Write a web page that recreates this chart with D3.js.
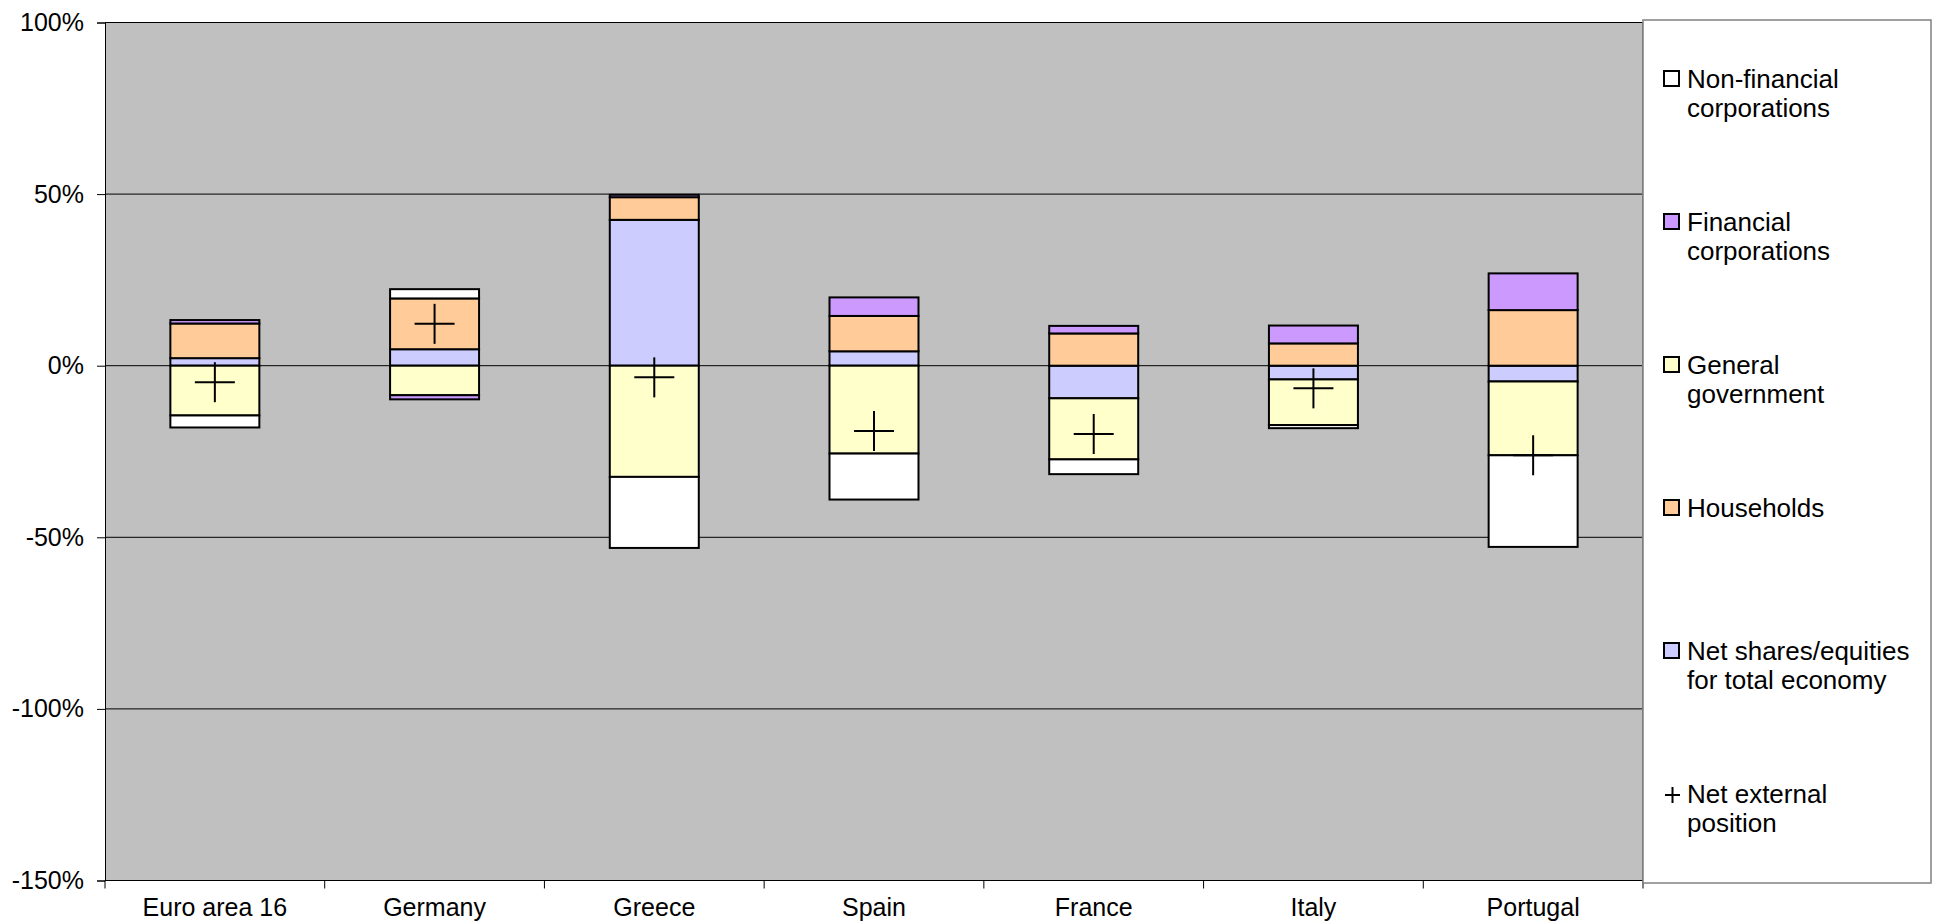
<!DOCTYPE html>
<html>
<head>
<meta charset="utf-8">
<script src="https://cdn.jsdelivr.net/npm/d3@7"></script>
<style>
  body { margin: 0; background: #ffffff; }
  text { font-family: "Liberation Sans", Arial, sans-serif; fill: #000; }
</style>
</head>
<body>
<svg id="chart" width="1933" height="924"></svg>
<script>
// Countries / areas on the horizontal axis
const categories = ["Euro area 16", "Germany", "Greece", "Spain", "France", "Italy", "Portugal"];

// Sector contributions, % of GDP
const nonFinancial = [-3.5, 2.7, -20.7, -13.4, -4.3, -0.9, -26.7];
const financial    = [1.0, -1.2, 0.7, 5.4, 2.2, 5.2, 10.7];
const generalGov   = [-14.5, -8.6, -32.4, -25.6, -17.8, -13.3, -21.5];
const households   = [10.1, 14.8, 6.6, 10.3, 9.4, 6.5, 16.2];
const netShares    = [2.2, 4.8, 42.5, 4.2, -9.5, -4.0, -4.6];
const netExternal  = [-4.8, 12.2, -3.4, -19.0, -19.9, -6.6, -26.1];

// Y axis ticks
const yTicks = [-150, -100, -50, 0, 50, 100];

// Legend entries (text lines)
const legendLabels = [
  ["Non-financial", "corporations"],
  ["Financial", "corporations"],
  ["General", "government"],
  ["Households"],
  ["Net shares/equities", "for total economy"],
  ["Net external", "position"]
];

// Series keys in stacking order (first key sits next to zero)
const stackKeys = ["netShares", "households", "generalGov", "financial", "nonFinancial"];
const seriesColor = {
  nonFinancial: "#FFFFFF",
  financial: "#CC99FF",
  generalGov: "#FFFFCC",
  households: "#FFCC99",
  netShares: "#CCCCFF"
};
const legendKeys = ["nonFinancial", "financial", "generalGov", "households", "netShares", "netExternal"];

const rows = categories.map((c, i) => ({
  category: c,
  nonFinancial: nonFinancial[i],
  financial: financial[i],
  generalGov: generalGov[i],
  households: households[i],
  netShares: netShares[i],
  netExternal: netExternal[i]
}));

const svg = d3.select("#chart");
const plot = { left: 105, right: 1643, top: 22.5, bottom: 880.5 };

const y = d3.scaleLinear().domain([-150, 100]).range([plot.bottom, plot.top]);
const xCat = d3.scaleBand().domain(categories).range([plot.left, plot.right]).padding(0);
const xBar = d3.scaleBand().domain(categories).range([plot.left, plot.right])
  .paddingInner(0.595).paddingOuter(0.2975);

// Plot background
svg.append("rect")
  .attr("x", plot.left).attr("y", plot.top)
  .attr("width", plot.right - plot.left).attr("height", plot.bottom - plot.top)
  .attr("fill", "#C0C0C0");

// Gridlines
svg.append("g").selectAll("line").data(yTicks).join("line")
  .attr("x1", plot.left).attr("x2", plot.right)
  .attr("y1", d => y(d)).attr("y2", d => y(d))
  .attr("stroke", "#000").attr("stroke-width", 1);

// Plot frame (right edge)
svg.append("line")
  .attr("x1", plot.right).attr("x2", plot.right)
  .attr("y1", plot.top).attr("y2", plot.bottom)
  .attr("stroke", "#707070").attr("stroke-width", 2);

// Stacked bars
const stacked = d3.stack().keys(stackKeys).offset(d3.stackOffsetDiverging)(rows);
svg.append("g").selectAll("g").data(stacked).join("g")
  .attr("fill", d => seriesColor[d.key])
  .selectAll("rect").data(d => d).join("rect")
  .attr("x", d => xBar(d.data.category))
  .attr("width", xBar.bandwidth())
  .attr("y", d => y(Math.max(d[0], d[1])))
  .attr("height", d => Math.abs(y(d[0]) - y(d[1])))
  .attr("stroke", "#000").attr("stroke-width", 2);

// Net external position markers
const crossHalf = 20;
const cross = svg.append("g").selectAll("g").data(rows).join("g")
  .attr("transform", d => `translate(${xCat(d.category) + xCat.bandwidth() / 2},${y(d.netExternal)})`);
cross.append("line").attr("x1", -crossHalf).attr("x2", crossHalf).attr("y1", 0).attr("y2", 0)
  .attr("stroke", "#000").attr("stroke-width", 2);
cross.append("line").attr("x1", 0).attr("x2", 0).attr("y1", -crossHalf).attr("y2", crossHalf)
  .attr("stroke", "#000").attr("stroke-width", 2);

// Y axis
const yAxis = svg.append("g")
  .attr("transform", `translate(${plot.left},0)`)
  .call(d3.axisLeft(y).tickValues(yTicks).tickFormat(d => d + "%").tickSize(8).tickPadding(13));
yAxis.selectAll("text").attr("font-size", 25).style("font-family", "'Liberation Sans', Arial, sans-serif");
yAxis.selectAll("line, path").attr("stroke", "#000");

// X axis: labels centred on categories, ticks on category boundaries
const xAxis = svg.append("g")
  .attr("transform", `translate(0,${plot.bottom})`)
  .call(d3.axisBottom(xCat).tickSize(0).tickPadding(18));
xAxis.select("path").remove();
xAxis.selectAll("text").attr("font-size", 25).style("font-family", "'Liberation Sans', Arial, sans-serif");
svg.append("line")
  .attr("x1", plot.left).attr("x2", plot.right)
  .attr("y1", plot.bottom).attr("y2", plot.bottom)
  .attr("stroke", "#000").attr("stroke-width", 1);
const boundaries = categories.map(c => xCat(c)).concat([xCat.range()[1]]);
svg.append("g").selectAll("line").data(boundaries).join("line")
  .attr("x1", d => d).attr("x2", d => d)
  .attr("y1", plot.bottom).attr("y2", plot.bottom + 8)
  .attr("stroke", "#000").attr("stroke-width", 1);

// Legend
const legendBox = { x: 1643, y: 20, w: 288, h: 863 };
svg.append("rect")
  .attr("x", legendBox.x).attr("y", legendBox.y)
  .attr("width", legendBox.w).attr("height", legendBox.h)
  .attr("fill", "#fff").attr("stroke", "#808080").attr("stroke-width", 1.5);

const legend = svg.append("g").selectAll("g").data(legendKeys).join("g")
  .attr("transform", (d, i) => `translate(1664,${88 + i * 143})`);

legend.filter(d => d !== "netExternal").append("rect")
  .attr("x", 0).attr("y", -17).attr("width", 15).attr("height", 15)
  .attr("fill", d => seriesColor[d]).attr("stroke", "#000").attr("stroke-width", 2);

const lp = legend.filter(d => d === "netExternal");
lp.append("line").attr("x1", 1).attr("x2", 16).attr("y1", -8).attr("y2", -8)
  .attr("stroke", "#000").attr("stroke-width", 2);
lp.append("line").attr("x1", 8.5).attr("x2", 8.5).attr("y1", -16).attr("y2", 0)
  .attr("stroke", "#000").attr("stroke-width", 2);

legend.append("text")
  .attr("x", 23).attr("y", 0)
  .attr("font-size", 26)
  .selectAll("tspan").data((d, i) => legendLabels[i]).join("tspan")
  .attr("x", 23).attr("dy", (d, j) => j === 0 ? 0 : 29)
  .text(d => d);
</script>
</body>
</html>
